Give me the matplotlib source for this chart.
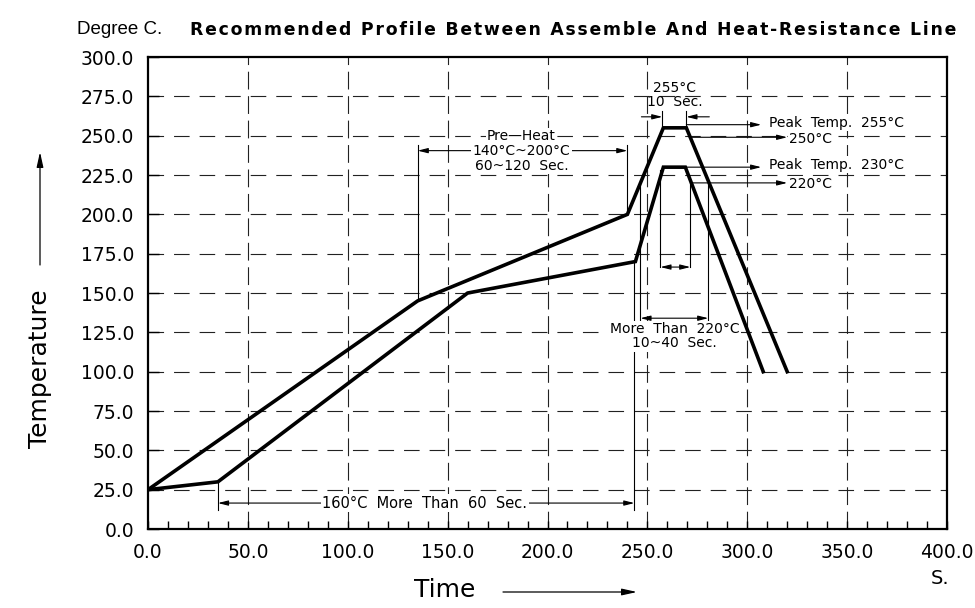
import matplotlib
matplotlib.use('Agg')
import matplotlib.pyplot as plt

# profile data (time in s, temperature in degree C)
upper_time = [0, 135, 240, 258, 269.5, 320]
upper_temp = [25, 145, 200, 255, 255, 100]
lower_time = [0, 35, 160, 244, 258, 269, 308]
lower_temp = [25, 30, 150, 170, 230, 230, 100]

x_ticks = [0, 50, 100, 150, 200, 250, 300, 350, 400]
y_ticks = [0, 25, 50, 75, 100, 125, 150, 175, 200, 225, 250, 275, 300]

title = 'Recommended Profile Between Assemble And Heat-Resistance Line'

fig = plt.figure(figsize=(9.75, 6.08), dpi=100)
ax = fig.add_axes([0.1518, 0.1299, 0.8195, 0.7763])

ax.set_xlim(0, 400)
ax.set_ylim(0, 300)
ax.set_xticks(x_ticks)
ax.set_xticks(range(0, 401, 10), minor=True)
ax.set_yticks(y_ticks)
ax.set_xticklabels(['%.1f' % v for v in x_ticks])
ax.set_yticklabels(['%.1f' % v for v in y_ticks])
ax.tick_params(axis='x', which='both', direction='in', length=6, width=1, pad=10,
               labelsize=13.5, top=False)
ax.tick_params(axis='y', direction='in', length=8, width=1, pad=10,
               labelsize=13.5, right=False)
for s in ax.spines.values():
    s.set_linewidth(1.6)

# dashed grid
for y in y_ticks[1:-1]:
    ax.plot([0, 400], [y, y], color='#222', lw=0.8, dashes=(14, 9), zorder=1)
for x in x_ticks[1:-1]:
    ax.plot([x, x], [0, 300], color='#222', lw=0.8, dashes=(16, 6), zorder=1)

# the two profile lines
ax.plot(upper_time, upper_temp, color='k', lw=2.6, solid_joinstyle='miter', zorder=4)
ax.plot(lower_time, lower_temp, color='k', lw=2.6, solid_joinstyle='miter', zorder=4)


def vline(x, y0, y1):
    ax.plot([x, x], [y0, y1], color='k', lw=0.8, zorder=3)


def arrow(x0, y0, x1, y1, style='-|>'):
    ax.annotate('', xy=(x1, y1), xytext=(x0, y0), zorder=3,
                arrowprops=dict(arrowstyle=style + ',head_length=0.6,head_width=0.15',
                                lw=0.8, color='k', shrinkA=0, shrinkB=0))


box = dict(facecolor='white', edgecolor='none', pad=1)
fs = 10

# pre-heat
vline(135, 147, 244)
vline(240, 200, 244)
arrow(135, 240.5, 240, 240.5, '<|-|>')
ax.text(187, 249.5, 'Pre\u2014Heat', fontsize=fs, ha='center', va='center', bbox=box, zorder=5)
ax.text(187, 240.5, '140°C~200°C', fontsize=fs, ha='center', va='center', bbox=box, zorder=5)
ax.text(187, 231, '60~120  Sec.', fontsize=fs, ha='center', va='center', bbox=box, zorder=5)

# 255 C 10 sec
vline(257.5, 255, 266)
vline(269.5, 255, 266)
arrow(247, 262, 257.5, 262)
arrow(281, 262, 269.5, 262)
ax.text(263.5, 280, '255°C', fontsize=fs, ha='center', va='center', zorder=5)
ax.text(263.5, 271.5, '10  Sec.', fontsize=fs, ha='center', va='center', zorder=5)

# peak temperatures
arrow(269.5, 257, 307, 257)
ax.text(311, 258, 'Peak  Temp.  255°C', fontsize=fs, ha='left', va='center', bbox=box, zorder=5)
arrow(271, 249, 320, 249)
ax.text(321, 248, '250°C', fontsize=fs, ha='left', va='center', bbox=box, zorder=5)
arrow(269, 230, 307, 230)
ax.text(311, 231.5, 'Peak  Temp.  230°C', fontsize=fs, ha='left', va='center', bbox=box, zorder=5)
arrow(272, 220, 320, 220)
ax.text(321, 219, '220°C', fontsize=fs, ha='left', va='center', bbox=box, zorder=5)

# lower peak 10 sec
vline(256.5, 166.5, 228)
vline(271.5, 166.5, 222)
arrow(256.5, 166.5, 271.5, 166.5, '<|-|>')

# more than 220 C
vline(246.5, 131, 220)
vline(280.5, 131, 220)
arrow(246.5, 134, 280.5, 134, '<|-|>')
ax.text(263.5, 127, 'More  Than  220°C', fontsize=fs, ha='center', va='center', bbox=box, zorder=5)
ax.text(263.5, 118, '10~40  Sec.', fontsize=fs, ha='center', va='center', bbox=box, zorder=5)

# 160 C more than 60 sec
vline(35, 12, 30)
vline(243.5, 12, 170)
arrow(35, 16.5, 243.5, 16.5, '<|-|>')
ax.text(138.5, 16.5, '160°C  More  Than  60  Sec.', fontsize=10.5, ha='center', va='center',
        bbox=box, zorder=5)

# titles and axis labels
fig.text(77 / 975, 1 - 30 / 608, 'Degree C.', fontsize=13.5, family='Liberation Sans',
         ha='left', va='center')
spaced = '\u200a'.join(title)
fig.text(190 / 975, 1 - 30 / 608, spaced, fontsize=12.4, fontweight='bold', ha='left', va='center')
fig.text(40 / 975, 1 - 369 / 608, 'Temperature', fontsize=18, rotation=90,
         ha='center', va='center')
fig.text(445 / 975, 1 - 590 / 608, 'Time', fontsize=18, ha='center', va='center')
fig.text(940 / 975, 1 - 578 / 608, 'S.', fontsize=14, ha='center', va='center')

ap = dict(arrowstyle='-|>,head_length=0.9,head_width=0.2', lw=0.9, color='k',
          shrinkA=0, shrinkB=0)
fig.add_artist(matplotlib.patches.FancyArrowPatch((40 / 975, 1 - 265 / 608), (40 / 975, 1 - 152 / 608),
               transform=fig.transFigure, **ap, mutation_scale=10))
fig.add_artist(matplotlib.patches.FancyArrowPatch((503 / 975, 1 - 592 / 608), (637 / 975, 1 - 592 / 608),
               transform=fig.transFigure, **ap, mutation_scale=10))

fig.savefig('out.png', dpi=100)
